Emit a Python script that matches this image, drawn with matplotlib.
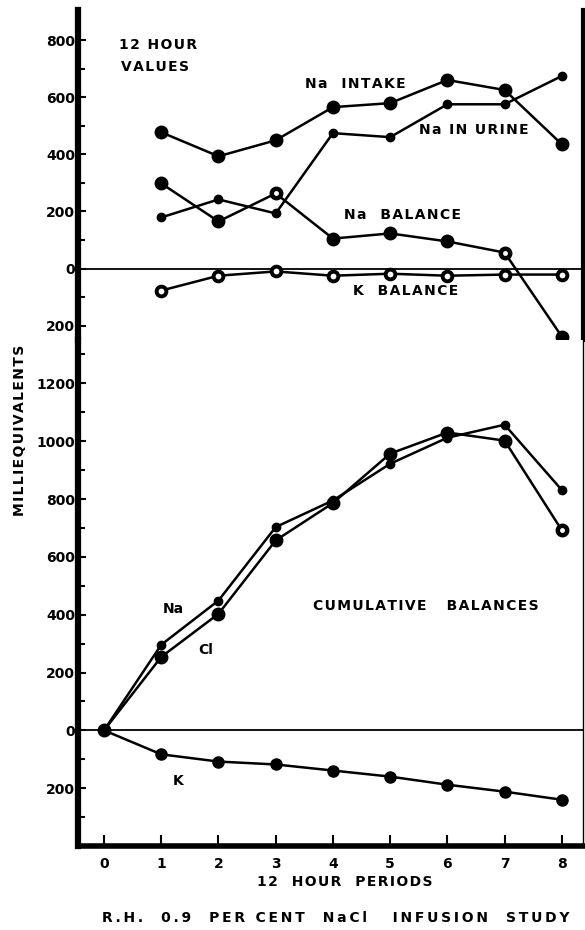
import matplotlib

matplotlib.use("Agg")  # headless (no GUI)
import matplotlib.pyplot as plt
from matplotlib.ticker import FixedLocator, FuncFormatter

# --- data: 12 hour values (top panel)
periods = [1, 2, 3, 4, 5, 6, 7, 8]
na_intake = [477, 393, 449, 565, 579, 660, 625, 435]
na_urine = [179, 242, 193, 474, 460, 575, 575, 674]
na_balance = [298, 165, 263, 105, 123, 95, 56, -238]
k_balance = [-77, -25, -10, -25, -18, -25, -21, -21]

# --- data: cumulative balances (bottom panel)
cum_periods = [0, 1, 2, 3, 4, 5, 6, 7, 8]
cum_na = [0, 296, 449, 703, 795, 922, 1012, 1057, 831]
cum_cl = [0, 254, 403, 657, 786, 957, 1030, 1002, 692]
cum_k = [0, -83, -108, -118, -139, -160, -188, -212, -240]

x_ticks = [0, 1, 2, 3, 4, 5, 6, 7, 8]
top_major = [-200, 0, 200, 400, 600, 800]
top_minor = [-100, 100, 300, 500, 700]
bot_major = [-200, 0, 200, 400, 600, 800, 1000, 1200]
bot_minor = [-300, -100, 100, 300, 500, 700, 900, 1100, 1300]

FONT = dict(family="DejaVu Sans", fontweight="bold", fontsize=10)
HAIR = "\u200a"
THIN = "\u2009"


def track(s, gap=HAIR):
    # widen letter spacing like the stencil lettering of the original
    return gap.join(s)


fig = plt.figure(figsize=(5.85, 9.3), dpi=100)
W, H = 585, 930
left, right = 78 / W, 583 / W
split = 340
ax_top = fig.add_axes([left, 1 - split / H, right - left, (split - 10) / H])
ax_bot = fig.add_axes([left, 1 - 846 / H, right - left, (846 - split) / H])

abs_fmt = FuncFormatter(lambda v, p: f"{abs(int(round(v)))}")

for ax, major, minor in ((ax_top, top_major, top_minor),
                         (ax_bot, bot_major, bot_minor)):
    ax.set_xlim(-0.455, 8.37)
    ax.axhline(0, color="black", lw=1.3, zorder=1)
    ax.spines["top"].set_visible(False)
    ax.spines["left"].set_linewidth(4.5)
    ax.spines["right"].set_linewidth(1.0)
    ax.yaxis.set_major_locator(FixedLocator(major))
    ax.yaxis.set_minor_locator(FixedLocator(minor))
    ax.yaxis.set_major_formatter(abs_fmt)
    ax.tick_params(axis="y", which="both", direction="in", length=5, width=1.5,
                   pad=2, labelsize=10)
    ax.tick_params(axis="y", which="major", length=6)
    for lab in ax.get_yticklabels():
        lab.set_fontweight("bold")

# top panel
ax_top.set_ylim(-250, 905)
ax_top.spines["bottom"].set_visible(False)
ax_top.spines["right"].set_linewidth(3.0)
ax_top.set_xticks([])

big = dict(color="black", lw=1.8, marker="o", ms=9, mfc="black", mec="black")
small = dict(color="black", lw=1.8, marker="o", ms=6, mfc="black", mec="black")

ax_top.plot(periods, na_intake, **big, zorder=3)
ax_top.plot(periods, na_urine, **small, zorder=3)
ax_top.plot(periods, na_balance, **big, zorder=3)
ax_top.plot([periods[2], periods[6]], [na_balance[2], na_balance[6]], ls="none",
            marker="o", ms=2.5, mfc="white", mec="white", zorder=4)
ax_top.plot(periods, k_balance, color="black", lw=1.8, marker="o", ms=7,
            mfc="white", mec="black", mew=2.8, zorder=3)

ax_top.text(0.26, 782, track("12 HOUR"), ha="left", va="center", **FONT)
ax_top.text(0.30, 705, track("VALUES"), ha="left", va="center", **FONT)
ax_top.text(3.51, 645, track("Na  INTAKE"), ha="left", va="center", **FONT)
ax_top.text(5.51, 484, track("Na IN URINE"), ha="left", va="center", **FONT)
ax_top.text(4.20, 189, track("Na  BALANCE"), ha="left", va="center", **FONT)
ax_top.text(4.35, -77, track("K  BALANCE"), ha="left", va="center", **FONT)

# bottom panel
ax_bot.set_ylim(-400, 1350)
ax_bot.spines["bottom"].set_linewidth(4.0)
ax_bot.set_xticks(x_ticks)
ax_bot.tick_params(axis="x", direction="in", length=8, width=1.5, pad=8,
                   labelsize=10)
for lab in ax_bot.get_xticklabels():
    lab.set_fontweight("bold")

ax_bot.plot(cum_periods, cum_na, **small, zorder=3)
ax_bot.plot(cum_periods, cum_cl, **big, zorder=3)
ax_bot.plot([cum_periods[8]], [cum_cl[8]], ls="none", marker="o", ms=2.5,
            mfc="white", mec="white", zorder=4)
ax_bot.plot(cum_periods, cum_k, color="black", lw=1.8, marker="o", ms=8,
            mfc="black", mec="black", zorder=3)

ax_bot.text(1.03, 421, "Na", ha="left", va="center", **FONT)
ax_bot.text(1.64, 278, "Cl", ha="left", va="center", **FONT)
ax_bot.text(3.65, 431, track("CUMULATIVE   BALANCES"), ha="left",
            va="center", **FONT)
ax_bot.text(1.20, -174, "K", ha="left", va="center", **FONT)

fig.text(20 / W, 1 - 430 / H, track("MILLIEQUIVALENTS"), rotation=90,
         ha="center", va="center", **FONT)
fig.text(345 / W, 1 - 882 / H, track("12  HOUR  PERIODS"), ha="center",
         va="center", **FONT)
fig.text(336 / W, 1 - 918 / H,
         track("R.H.  0.9  PER CENT  NaCl   INFUSION  STUDY", THIN),
         ha="center", va="center", **FONT)

fig.savefig("out.png", dpi=100)
plt.close(fig)
